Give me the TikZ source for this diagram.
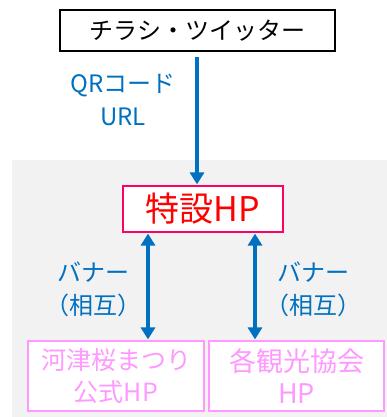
\documentclass[tikz,border=0pt]{standalone}
\usepackage{fontspec}
\setmainfont{Noto Sans CJK JP}
\usetikzlibrary{arrows.meta}
\definecolor{linkblue}{HTML}{0070C0}
\definecolor{hpred}{HTML}{FF0000}
\definecolor{hpframe}{HTML}{FF0066}
\definecolor{sitepink}{HTML}{FF99FF}
\definecolor{bggray}{HTML}{F2F2F2}
\tikzset{
	srcbox/.style={draw=black, line width=1.2pt, minimum width=275pt, minimum height=41pt, inner sep=0pt, font=\fontsize{24}{28}\selectfont},
	hpbox/.style={draw=hpframe, fill=white, line width=1.2pt, minimum width=160pt, minimum height=46pt, inner sep=0pt, text=hpred, font=\fontsize{34}{36}\selectfont},
	sitebox/.style={draw=sitepink, fill=white, line width=1.2pt, minimum height=70pt, inner sep=0pt, align=center, text=sitepink, font=\fontsize{25}{32}\selectfont},
	linklabel/.style={text=linkblue, align=center, font=\fontsize{24}{33}\selectfont},
	link/.style={draw=linkblue, line width=4pt, -{Triangle[width=14pt,length=12pt]}},
	dlink/.style={draw=linkblue, line width=4pt, {Triangle[width=14pt,length=12pt]}-{Triangle[width=14pt,length=12pt]}}
}
\begin{document}
\begin{tikzpicture}[x=1pt, y=-1pt]
			%%%%% START %%%%%
			\useasboundingbox (0,0) rectangle (387,417);
			\fill[bggray] (12,160) rectangle (387,417);
			
			\node[srcbox] (flyer) at (197.5,30.5) {チラシ・ツイッター};
			\node[hpbox] (hp) at (203,209) {特設HP};
			\node[sitebox, minimum width=176pt] (sakura) at (116,376) {河津桜まつり\\公式HP};
			\node[sitebox, minimum width=175pt, font=\fontsize{27}{32}\selectfont] (kanko) at (296.5,376) {各観光協会\\HP};
			
			\coordinate (topx) at (197,0);
			\coordinate (leftx) at (148,0);
			\coordinate (rightx) at (255,0);
			
			\draw[link, shorten <=5pt, shorten >=1pt] (flyer.south -| topx) -- (hp.north -| topx);
			\draw[dlink, shorten <=1pt, shorten >=1pt] (hp.south -| leftx) -- (sakura.north -| leftx);
			\draw[dlink, shorten <=1pt, shorten >=1pt] (hp.south -| rightx) -- (kanko.north -| rightx);
			
			\node[linklabel] (qrlabel) at (123,100) {QRコード\\URL};
			\node[linklabel] (lbanner) at (93,289) {バナー\\（相互）};
			\node[linklabel] (rbanner) at (313,289) {バナー\\（相互）};
			%%%%% END %%%%%
\end{tikzpicture}
\end{document}
